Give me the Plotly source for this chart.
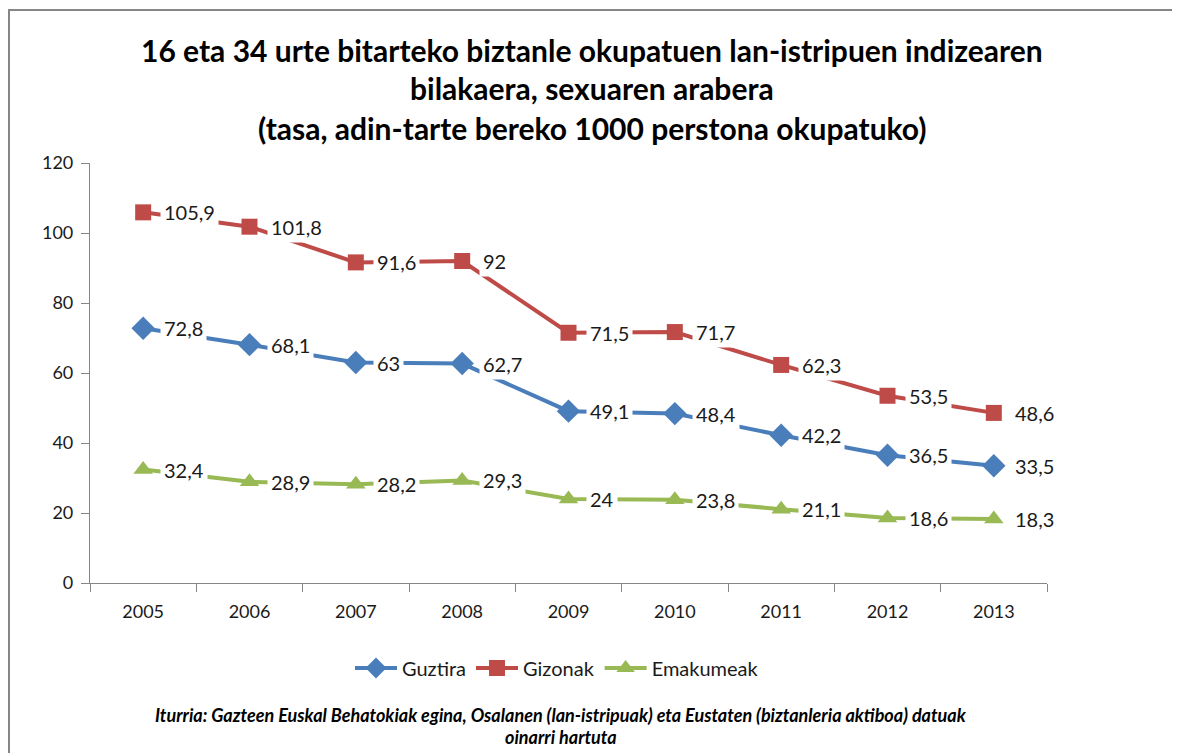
import plotly.graph_objects as go

years = ["2005", "2006", "2007", "2008", "2009", "2010", "2011", "2012", "2013"]
guztira = [72.8, 68.1, 63, 62.7, 49.1, 48.4, 42.2, 36.5, 33.5]
gizonak = [105.9, 101.8, 91.6, 92, 71.5, 71.7, 62.3, 53.5, 48.6]
emakumeak = [32.4, 28.9, 28.2, 29.3, 24, 23.8, 21.1, 18.6, 18.3]
y_ticks = [0, 20, 40, 60, 80, 100, 120]

series = [
    ("Guztira", guztira, "#4A7EBB", "diamond", 18),
    ("Gizonak", gizonak, "#BE4B48", "square", 16),
    ("Emakumeak", emakumeak, "#98B954", "triangle-up", 17),
]

FONT = "Lato"
W, H = 1172, 745
L, R, T, B = 82, 133, 155, 170
PW = W - L - R
PH = H - T - B


def px_x(px):
    return (px - L) / PW


def px_y(py):
    return (H - B - py) / PH


fig = go.Figure()
annotations = []
for name, vals, color, sym, msize in series:
    fig.add_trace(go.Scatter(
        x=years, y=vals, name=name, mode="lines+markers",
        line=dict(color=color, width=4),
        marker=dict(symbol=sym, size=msize, color=color),
    ))
    for i, v in enumerate(vals):
        txt = (f"{v:g}").replace(".", ",")
        annotations.append(dict(
            x=i, y=v, xref="x", yref="y", text=txt, showarrow=False,
            xanchor="left", yanchor="middle", xshift=17,
            bgcolor="white", borderpad=3,
            font=dict(family=FONT, size=20, color="#1a1a1a"),
        ))

title_lines = [
    "16 eta 34 urte bitarteko biztanle okupatuen lan-istripuen indizearen",
    "bilakaera, sexuaren arabera",
    "(tasa, adin-tarte bereko 1000 perstona okupatuko)",
]
for line, yc in zip(title_lines, [42, 80, 120]):
    annotations.append(dict(
        xref="paper", yref="paper", x=px_x(584), y=px_y(yc),
        xanchor="center", yanchor="middle", showarrow=False,
        text=f"<b>{line}</b>",
        font=dict(family=FONT, size=30, color="black"),
    ))

source_lines = [
    "Iturria: Gazteen Euskal Behatokiak egina, Osalanen (lan-istripuak) eta Eustaten (biztanleria aktiboa) datuak",
    "oinarri hartuta",
]
for line, yc in zip(source_lines, [707, 729]):
    annotations.append(dict(
        xref="paper", yref="paper", x=px_x(553), y=px_y(yc),
        xanchor="center", yanchor="middle", showarrow=False,
        text=f"<b><i>{line}</i></b>",
        font=dict(family=FONT, size=18, color="black"),
    ))

fig.update_layout(
    width=W, height=H,
    paper_bgcolor="white", plot_bgcolor="white",
    margin=dict(l=L, r=R, t=T, b=B),
    xaxis=dict(
        type="category", range=[-0.5, 8.5], showgrid=False,
        showline=True, linecolor="#868686", linewidth=1.2,
        ticks="outside", tickson="boundaries", ticklen=8, tickcolor="#868686",
        ticklabelstandoff=12,
        tickfont=dict(family=FONT, size=18, color="#1a1a1a"),
    ),
    yaxis=dict(
        range=[0, 120], tickvals=y_ticks, showgrid=False, zeroline=False,
        showline=True, linecolor="#868686", linewidth=1.2,
        ticks="outside", ticklen=8, tickcolor="#868686",
        ticklabelstandoff=4,
        tickfont=dict(family=FONT, size=18, color="#1a1a1a"),
    ),
    legend=dict(
        orientation="h", xref="container", yref="container",
        x=549 / W, y=1 - 660 / H, xanchor="center", yanchor="middle",
        itemwidth=42,
        font=dict(family=FONT, size=20, color="#1a1a1a"),
    ),
    annotations=annotations,
    shapes=[dict(
        type="rect", xref="paper", yref="paper",
        x0=px_x(1), x1=px_x(1167), y0=px_y(780), y1=px_y(2),
        line=dict(color="#868686", width=2), fillcolor="rgba(0,0,0,0)",
        layer="below",
    )],
)

fig.write_html("out.html")
